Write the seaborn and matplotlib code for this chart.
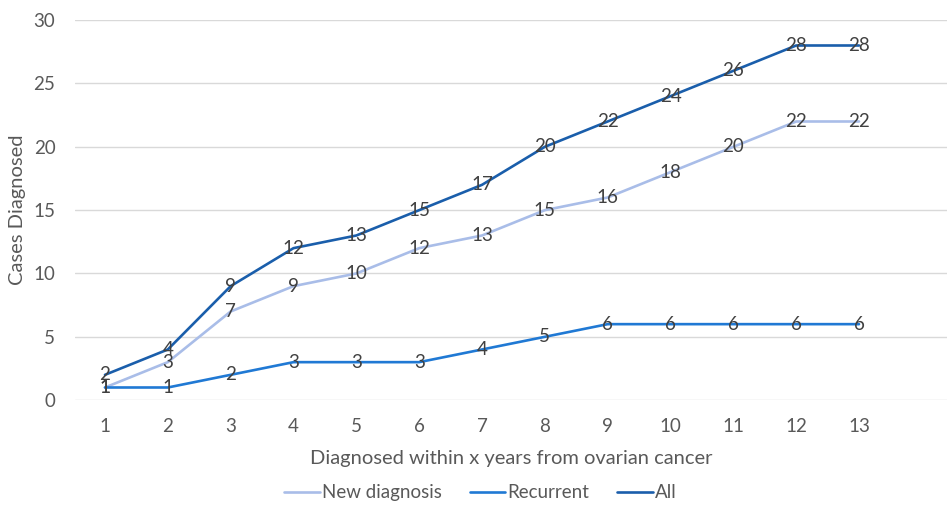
import pandas as pd
import matplotlib.pyplot as plt
import seaborn as sns

years = list(range(1, 14))
new_diagnosis = [1, 3, 7, 9, 10, 12, 13, 15, 16, 18, 20, 22, 22]
recurrent = [1, 1, 2, 3, 3, 3, 4, 5, 6, 6, 6, 6, 6]
all_cases = [2, 4, 9, 12, 13, 15, 17, 20, 22, 24, 26, 28, 28]

series_names = ["New diagnosis", "Recurrent", "All"]
colors = ["#A9BDE8", "#2079D4", "#1A5EAB"]


def main():
    df = pd.DataFrame({
        "Year": years * 3,
        "Cases": new_diagnosis + recurrent + all_cases,
        "Series": [s for s in series_names for _ in years],
    })

    sns.set_theme(style="white")
    plt.rcParams['font.family'] = ['Lato', 'DejaVu Sans']

    fig = plt.figure(figsize=(9.47, 5.17), dpi=100)
    ax = fig.add_axes([0.079, 0.226, 0.921, 0.735])

    sns.lineplot(data=df, x="Year", y="Cases", hue="Series", hue_order=series_names,
                 palette=colors, linewidth=1.9, ax=ax, legend=False)

    # data labels sit right on the points, as in the original
    for _, row in df.iterrows():
        ax.text(row["Year"], row["Cases"], str(row["Cases"]), ha="center", va="center",
                fontsize=13.5, color="#404040")

    ax.set_ylim(0, 30)
    ax.set_yticks(range(0, 31, 5))
    ax.set_xlim(0.52, 14.4)
    ax.set_xticks(years)
    ax.yaxis.grid(True, color="#D9D9D9", linewidth=1)
    ax.set_axisbelow(True)
    for s in ax.spines.values():
        s.set_visible(False)
    ax.tick_params(axis="both", length=0, labelsize=13.5, labelcolor="#595959")
    ax.tick_params(axis="y", pad=14)
    ax.tick_params(axis="x", pad=13)
    ax.set_xlabel("Diagnosed within x years from ovarian cancer", fontsize=14.5,
                  color="#595959", labelpad=11)
    ax.set_ylabel("Cases Diagnosed", fontsize=14.5, color="#595959", labelpad=5)

    handles = [plt.Line2D([], [], color=c, linewidth=1.9) for c in colors]
    fig.legend(handles, series_names, loc="center", bbox_to_anchor=(0.507, 0.047),
               ncol=3, frameon=False, fontsize=13.5, handlelength=1.9,
               handletextpad=0.1, columnspacing=1.5, labelcolor="#595959")

    fig.savefig("out.png", dpi=100)
    plt.close(fig)


if __name__ == "__main__":
    main()
